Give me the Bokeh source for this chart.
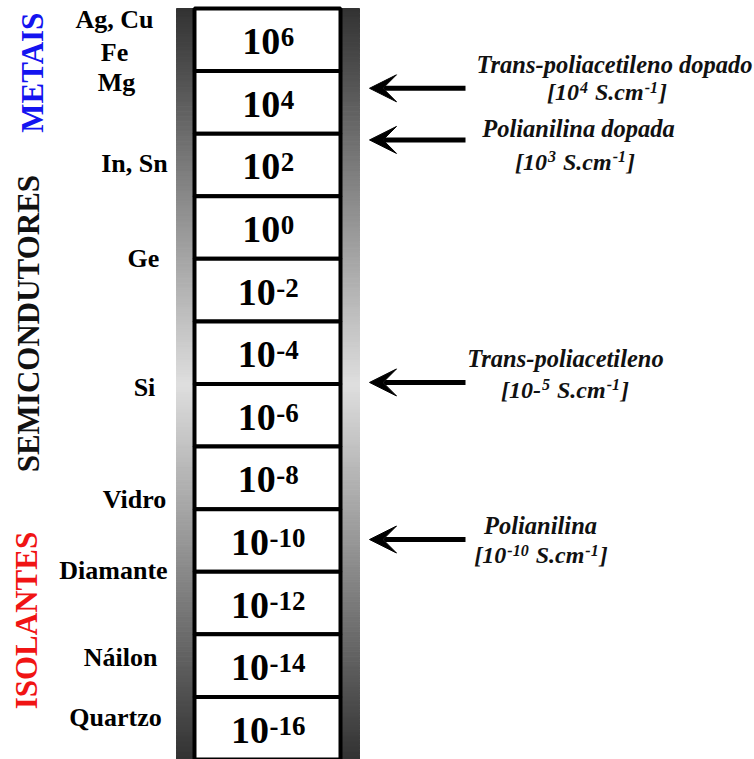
import numpy as np
from bokeh.plotting import figure
from bokeh.models import ColumnDataSource, Range1d, Arrow, VeeHead
from bokeh.core.properties import value
from bokeh.embed import file_html
from bokeh.resources import INLINE

# ---------------- data ----------------
exponents = [6, 4, 2, 0, -2, -4, -6, -8, -10, -12, -14, -16]
materials = ["Ag, Cu", "Fe", "Mg", "In, Sn", "Ge", "Si", "Vidro",
             "Diamante", "Náilon", "Quartzo"]
material_log = [6.65, 5.6, 4.65, 2.05, -1.0, -5.1, -8.7, -10.95, -13.75, -15.65]
classes = ["METAIS", "SEMICONDUTORES", "ISOLANTES"]
class_log = [4.95, -3.07, -12.56]
polymers = ["Trans-poliacetileno dopado", "Polianilina dopada",
            "Trans-poliacetileno", "Polianilina"]
polymer_exp = [4, 3, -5, -10]          # conductivity exponent, S.cm-1
polymer_log = [4.45, 2.8, -4.95, -9.97]  # where the arrows point
unit_text = "S.cm"
unit_exp = "-1"

# ---------------- layout / style ----------------
W, H = 754, 759
PX = 751 / 24.0            # pixels per decade unit
Y_BOT = -17
Y_TOP = 7 + 8 / PX
FONT = value("Liberation Serif")

# Times / Liberation Serif character widths (em) used to place superscripts
CW = {"[": 0.333, "]": 0.333, "-": 0.333, " ": 0.25, ".": 0.25, "S": 0.556,
      "c": 0.444, "m": 0.778}


def seg_x(segs, cx, fs_n, fs_s, gap=1.0):
    # segs: (text, is_superscript, leading space in em of the normal font)
    widths = [sum(CW.get(ch, 0.5) for ch in t) * (fs_s if sup else fs_n) + gap
              for t, sup, pre in segs]
    pres = [pre * fs_n for t, sup, pre in segs]
    x = cx - (sum(widths) + sum(pres)) / 2
    out = []
    for w, pr in zip(widths, pres):
        x += pr
        out.append(x)
        x += w
    return out


p = figure(width=W, height=H, x_range=Range1d(0, W), y_range=Range1d(Y_BOT, Y_TOP),
           output_backend="svg", toolbar_location=None, min_border=0,
           x_axis_type=None, y_axis_type=None,
           background_fill_color="white", border_fill_color="white",
           outline_line_color=None)

# gradient band behind the column (style only)
n = 300
edges = np.linspace(-17, 7, n + 1)
mids = (edges[:-1] + edges[1:]) / 2
shade = np.interp(mids, [-17, -5, 7], [0x33, 0xdf, 0x33]).astype(int)
gcol = ["#%02x%02x%02x" % (s, s, s) for s in shade]
p.quad(left=176, right=359, bottom=edges[:-1], top=edges[1:],
       fill_color=gcol, line_color=gcol, line_width=1)

# boxes
box_src = ColumnDataSource(dict(top=[e + 1 for e in exponents],
                                bottom=[e - 1 for e in exponents]))
p.quad(left=194, right=340, top="top", bottom="bottom", source=box_src,
       fill_color="white", line_color="black", line_width=4)

# "10" + exponent labels
fs_base, fs_sup = 38, 27
bx, by, bt, sx, sy, st = [], [], [], [], [], []
for e in exponents:
    xs = seg_x([("10", False, 0), (str(e), True, 0)], 268, fs_base, fs_sup, gap=0.5)
    bx.append(xs[0]); by.append(e - 2.0 / PX); bt.append("10")
    sx.append(xs[1]); sy.append(e + 2.5 / PX); st.append(str(e))
p.text(x=bx, y=by, text=bt, text_align="left", text_baseline="middle",
       text_font=FONT, text_font_style="bold", text_font_size=f"{fs_base}px",
       text_color="black")
p.text(x=sx, y=sy, text=st, text_align="left", text_baseline="middle",
       text_font=FONT, text_font_style="bold", text_font_size=f"{fs_sup}px",
       text_color="black")

# material labels on the left
mat_x = [114, 114, 116, 134, 143, 144, 134, 113, 120, 115]
p.text(x=mat_x, y=material_log, text=materials, text_align="center",
       text_baseline="middle", text_font=FONT, text_font_style="bold",
       text_font_size="26px", text_color="black")

# class labels (vertical)
class_x = [32, 28, 26]
class_col = ["#1414f0", "#111111", "#f01414"]
p.text(x=class_x, y=class_log, text=classes, angle=np.pi / 2, text_align="center",
       text_baseline="middle", text_font=FONT, text_font_style="bold",
       text_font_size="31px", text_color=class_col)

# arrows
arrow_src = ColumnDataSource(dict(x0=[465] * len(polymer_log),
                                  x1=[369] * len(polymer_log), y=polymer_log))
p.add_layout(Arrow(end=VeeHead(size=27, fill_color="black", line_color="black",
                               line_width=1),
                   x_start="x0", y_start="y", x_end="x1", y_end="y",
                   source=arrow_src, line_width=5, line_color="black"))

# polymer names
name_x = [614, 578, 565, 540]
name_y = [5.21, 3.16, -4.19, -9.52]
p.text(x=name_x, y=name_y, text=polymers, text_align="center", text_baseline="middle",
       text_font=FONT, text_font_style="bold italic", text_font_size="24.5px",
       text_color="#111111")

# polymer conductivity values  [10^e S.cm^-1]
val_x = [607, 575, 565, 541]
val_y = [4.32, 2.11, -5.18, -10.48]
raised_sign = [True, True, False, True]   # the reference keeps "10-5" sign on the line
fs_n, fs_s = 24, 16
nx, ny, nt, ux, uy, ut = [], [], [], [], [], []
for ex, cx, cy, rs in zip(polymer_exp, val_x, val_y, raised_sign):
    e_txt = str(ex)
    if ex < 0 and not rs:
        segs = [("[10-", False, 0), (e_txt[1:], True, 0), (unit_text, False, 0.25),
                (unit_exp, True, 0), ("]", False, 0)]
    else:
        segs = [("[10", False, 0), (e_txt, True, 0), (unit_text, False, 0.25),
                (unit_exp, True, 0), ("]", False, 0)]
    xs = seg_x(segs, cx, fs_n, fs_s)
    for (t, sup, pre), x in zip(segs, xs):
        if sup:
            ux.append(x); uy.append(cy + 5.0 / PX); ut.append(t)
        else:
            nx.append(x); ny.append(cy); nt.append(t)
p.text(x=nx, y=ny, text=nt, text_align="left", text_baseline="middle",
       text_font=FONT, text_font_style="bold italic", text_font_size=f"{fs_n}px",
       text_color="#111111")
p.text(x=ux, y=uy, text=ut, text_align="left", text_baseline="middle",
       text_font=FONT, text_font_style="bold italic", text_font_size=f"{fs_s}px",
       text_color="#111111")

open("out.html", "w").write(file_html(p, INLINE))
